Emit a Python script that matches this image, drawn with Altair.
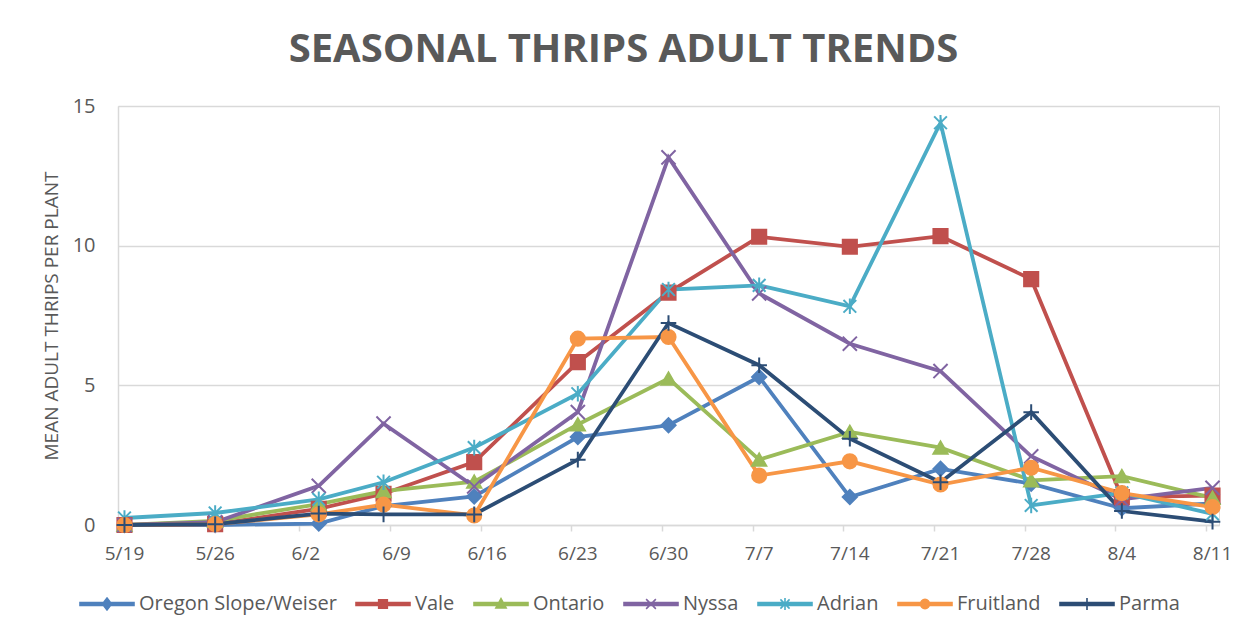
import json
import altair as alt
import pandas as pd

# ---------------- data ----------------
sample_dates = ["2023-05-19", "2023-05-26", "2023-06-03", "2023-06-08", "2023-06-15",
                "2023-06-23", "2023-06-30", "2023-07-07", "2023-07-14", "2023-07-21",
                "2023-07-28", "2023-08-04", "2023-08-11"]
tick_dates = ["2023-05-19", "2023-05-26", "2023-06-02", "2023-06-09", "2023-06-16",
              "2023-06-23", "2023-06-30", "2023-07-07", "2023-07-14", "2023-07-21",
              "2023-07-28", "2023-08-04", "2023-08-11"]
tick_labels = ["5/19", "5/26", "6/2", "6/9", "6/16", "6/23", "6/30", "7/7", "7/14",
               "7/21", "7/28", "8/4", "8/11"]
axis_end = "2023-08-12"

series_names = ["Oregon Slope/Weiser", "Vale", "Ontario", "Nyssa", "Adrian", "Fruitland", "Parma"]
oregon_slope = [0, 0, 0.05, 0.68, 1.02, 3.15, 3.57, 5.30, 1.00, 2.01, 1.48, 0.60, 0.77]
vale = [0, 0.03, 0.58, 1.12, 2.25, 5.83, 8.32, 10.32, 9.96, 10.34, 8.80, 1.00, 1.05]
ontario = [0, 0.15, 0.75, 1.21, 1.55, 3.60, 5.24, 2.34, 3.33, 2.77, 1.60, 1.75, 0.97]
nyssa = [0, 0.10, 1.40, 3.63, 1.38, 4.04, 13.16, 8.29, 6.49, 5.51, 2.46, 0.92, 1.33]
adrian = [0.25, 0.43, 0.92, 1.53, 2.77, 4.70, 8.43, 8.58, 7.83, 14.40, 0.70, 1.15, 0.40]
fruitland = [0, 0.03, 0.38, 0.73, 0.34, 6.67, 6.73, 1.77, 2.28, 1.45, 2.05, 1.14, 0.64]
parma = [0, 0.03, 0.41, 0.38, 0.38, 2.34, 7.23, 5.72, 3.09, 1.53, 4.04, 0.50, 0.12]
series_values = [oregon_slope, vale, ontario, nyssa, adrian, fruitland, parma]

y_ticks = [0, 5, 10, 15]

# ---------------- styles ----------------
series_colors = ["#4F81BD", "#C0504D", "#9BBB59", "#8064A2", "#4BACC6", "#F79646", "#2C4D75"]
point_shapes = [
    "diamond",
    "square",
    "triangle-up",
    "M-1,-1L1,1M-1,1L1,-1",
    "M-0.9,-0.9L0.9,0.9M-0.9,0.9L0.9,-0.9M0,-1.1L0,1.1",
    "circle",
    "M-1.1,0L1.1,0M0,-1.1L0,1.1",
]
BAR = "M-1,-0.05L1,-0.05L1,0.05L-1,0.05Z"
legend_shapes = [
    BAR + "M0,-0.22L0.17,0L0,0.22L-0.17,0Z",
    BAR + "M-0.16,-0.16L0.16,-0.16L0.16,0.16L-0.16,0.16Z",
    BAR + "M0,-0.2L0.19,0.15L-0.19,0.15Z",
    BAR + "M-0.18,-0.18L0.18,0.18M-0.18,0.18L0.18,-0.18",
    BAR + "M-0.17,-0.17L0.17,0.17M-0.17,0.17L0.17,-0.17M0,-0.22L0,0.22",
    BAR + "M0.17,0A0.17,0.17 0 1,1 -0.17,0A0.17,0.17 0 1,1 0.17,0Z",
    BAR + "M0,-0.22L0,0.22",
]
TEXT = "#595959"
GRID = "#D9D9D9"
FONT = "Open Sans"

rows = []
for name, vals in zip(series_names, series_values):
    for d, v in zip(sample_dates, vals):
        rows.append({"date": d, "series": name, "value": v})
df = pd.DataFrame(rows)


def ms(d):
    return int(pd.Timestamp(d, tz="UTC").timestamp() * 1000)


tick_ms = [ms(d) for d in tick_dates]
t0 = tick_ms[0]
label_expr = f"{json.dumps(tick_labels)}[round((toNumber(datum.value) - {t0}) / 604800000)]"

x_enc = alt.X(
    "t:T",
    scale=alt.Scale(type="utc", domain=[ms(tick_dates[0]), ms(axis_end)]),
    axis=alt.Axis(
        values=tick_ms, labelExpr=label_expr, title=None, grid=False,
        domainColor=GRID, domainWidth=1.5, tickColor=GRID, tickWidth=1.5, tickSize=6,
        labelPadding=13, labelOffset=6, labelFont=FONT, labelFontSize=19,
        labelColor=TEXT, labelAngle=0, labelFlush=False, labelOverlap=False,
    ),
)
y_enc = alt.Y(
    "value:Q",
    scale=alt.Scale(domain=[0, 15], nice=False),
    axis=alt.Axis(
        values=y_ticks, title="MEAN ADULT THRIPS PER PLANT", grid=True,
        gridColor=GRID, gridWidth=1.5, domain=True, domainColor=GRID, domainWidth=1.5,
        ticks=False, tickSize=0, labelPadding=23, labelFont=FONT, labelFontSize=20,
        labelColor=TEXT, titleFont=FONT, titleFontSize=19, titleFontWeight="normal",
        titleColor=TEXT, titlePadding=11,
    ),
)

base = alt.Chart(df).transform_calculate(t="time(toDate(datum.date)) + 43200000")

lines = base.mark_line(strokeWidth=3.8).encode(
    x=x_enc, y=y_enc,
    color=alt.Color("series:N", scale=alt.Scale(domain=series_names, range=series_colors), legend=None),
)

points = base.mark_point(filled=True, size=200, strokeWidth=2, opacity=1).encode(
    x=x_enc, y=y_enc,
    color=alt.Color("series:N", scale=alt.Scale(domain=series_names, range=series_colors), legend=None),
    stroke=alt.Stroke("series:N", scale=alt.Scale(domain=series_names, range=series_colors), legend=None),
    shape=alt.Shape("series:N", scale=alt.Scale(domain=series_names, range=point_shapes), legend=None),
)

leg = alt.Legend(
    title=None, orient="none", legendX=-39, legendY=470, direction="horizontal",
    columns=7, symbolSize=2916, symbolStrokeWidth=1.6, symbolOpacity=1,
    labelFont=FONT, labelFontSize=20, labelColor=TEXT, labelOffset=4,
    columnPadding=15, padding=0, labelLimit=0,
)

legend_layer = base.transform_filter("false").mark_point(filled=True, opacity=1).encode(
    x=x_enc, y=y_enc,
    color=alt.Color("series:N", scale=alt.Scale(domain=series_names, range=series_colors), legend=leg),
    stroke=alt.Stroke("series:N", scale=alt.Scale(domain=series_names, range=series_colors), legend=leg),
    shape=alt.Shape("series:N", scale=alt.Scale(domain=series_names, range=legend_shapes), legend=leg),
)

chart = (
    alt.layer(lines, points, legend_layer)
    .resolve_scale(color="independent", stroke="independent", shape="independent")
    .properties(
        width=1101,
        height=419,
        autosize=alt.AutoSizeParams(type="none"),
        padding={"left": 110, "top": 98, "right": 16, "bottom": 100},
        title=alt.TitleParams(
            "SEASONAL THRIPS ADULT TRENDS", font=FONT, fontSize=40, fontWeight="bold",
            color=TEXT, anchor="middle", dx=-45, dy=38, offset=32, baseline="alphabetic",
        ),
    )
    .configure_view(stroke=None)
    .configure(background="white")
)

chart.save("out.html", embed_options={"renderer": "svg", "actions": False})
